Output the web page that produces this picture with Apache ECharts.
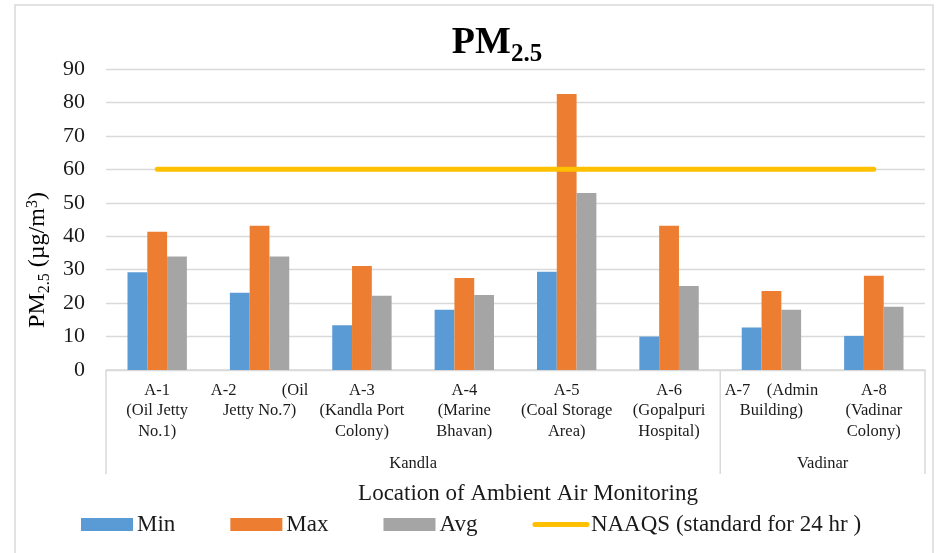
<!DOCTYPE html>
<html>
<head>
<meta charset="utf-8">
<script src="https://cdn.jsdelivr.net/npm/echarts@6/dist/echarts.min.js"></script>
<style>
  html, body { margin: 0; padding: 0; background: #ffffff; }
  #chart { width: 937px; height: 553px; }
</style>
</head>
<body>
<div id="chart"></div>
<script>
// Monitoring stations (category labels, wrapped as printed)
const categories = [
  'A-1\n(Oil Jetty\nNo.1)',
  'A-2           (Oil\nJetty No.7)',
  'A-3\n(Kandla Port\nColony)',
  'A-4\n(Marine\nBhavan)',
  'A-5\n(Coal Storage\nArea)',
  'A-6\n(Gopalpuri\nHospital)',
  'A-7    (Admin\nBuilding)',
  'A-8\n(Vadinar\nColony)'
];
// Second-level grouping of the stations
const groupNames = ['Kandla', 'Vadinar'];
const groupSizes = [6, 2];

// PM2.5 concentrations, µg/m³
const minValues = [29.2, 23.1, 13.4, 18.0, 29.4, 10.0, 12.7, 10.2];
const maxValues = [41.3, 43.1, 31.1, 27.5, 82.5, 43.1, 23.6, 28.2];
const avgValues = [33.9, 33.9, 22.2, 22.4, 52.9, 25.1, 18.0, 18.9];
const naaqsValues = [60, 60, 60, 60, 60, 60, 60, 60];

const seriesNames = ['Min', 'Max', 'Avg', 'NAAQS (standard for 24 hr )'];
const yMin = 0, yMax = 90, yStep = 10;

const FONT = "'Liberation Serif', 'DejaVu Serif', serif";
const TEXT = '#1a1a1a';
const GRID_COLOR = '#d9d9d9';

const chart = echarts.init(document.getElementById('chart'), null, { renderer: 'canvas' });

const barCommon = { type: 'bar', barGap: '0%', barCategoryGap: '42%' };

chart.setOption({
  animation: false,
  backgroundColor: '#ffffff',
  grid: { left: 106, right: 12, top: 69, bottom: 183, containLabel: false },
  xAxis: {
    type: 'category',
    data: categories,
    axisLine: { show: true, lineStyle: { color: GRID_COLOR, width: 1.5 } },
    axisTick: { show: false },
    axisLabel: {
      interval: 0, margin: 10, fontFamily: FONT, fontSize: 16.5, lineHeight: 20.5,
      color: TEXT, verticalAlign: 'top'
    }
  },
  yAxis: {
    type: 'value', min: yMin, max: yMax, interval: yStep,
    axisLine: { show: false }, axisTick: { show: false },
    axisLabel: { margin: 21, fontFamily: FONT, fontSize: 22, color: TEXT },
    splitLine: { lineStyle: { color: GRID_COLOR, width: 1.3 } }
  },
  legend: {
    left: 81, top: 513, padding: 0, itemWidth: 52, itemHeight: 13, itemGap: 55,
    textStyle: { fontFamily: FONT, fontSize: 23, color: TEXT, padding: [0, 0, 0, -1] },
    data: [
      { name: seriesNames[0], icon: 'rect' },
      { name: seriesNames[1], icon: 'rect' },
      { name: seriesNames[2], icon: 'rect' },
      { name: seriesNames[3], itemStyle: { opacity: 0 },
        lineStyle: { width: 5, cap: 'round', color: '#ffc000' } }
    ]
  },
  series: [
    Object.assign({ name: seriesNames[0], data: minValues, itemStyle: { color: '#5b9bd5' } }, barCommon),
    Object.assign({ name: seriesNames[1], data: maxValues, itemStyle: { color: '#ed7d31' } }, barCommon),
    Object.assign({ name: seriesNames[2], data: avgValues, itemStyle: { color: '#a5a5a5' } }, barCommon),
    {
      name: seriesNames[3], type: 'line', data: naaqsValues, symbol: 'none',
      itemStyle: { color: '#ffc000' },
      lineStyle: { color: '#ffc000', width: 5, cap: 'round' }, z: 5
    }
  ]
});

// Measure text widths for hand-placed sub/superscript titles
const ctx = document.createElement('canvas').getContext('2d');
function textWidth(str, size, weight) {
  ctx.font = (weight || 'normal') + ' ' + size + 'px ' + FONT;
  return ctx.measureText(str).width;
}

// Builds a run of text pieces, each with its own size and baseline shift
function textRun(pieces, weight) {
  const total = pieces.reduce((s, p) => s + textWidth(p.t, p.s, weight), 0);
  let x = -total / 2;
  return pieces.map(p => {
    const el = {
      type: 'text', x: x, y: p.dy || 0,
      style: {
        text: p.t, fontFamily: FONT, fontSize: p.s, fontWeight: weight || 'normal',
        fill: '#000', textAlign: 'left', textVerticalAlign: 'bottom'
      }
    };
    x += textWidth(p.t, p.s, weight);
    return el;
  });
}

// Category band geometry from the axis itself
const c0 = chart.convertToPixel({ xAxisIndex: 0 }, 0);
const c1 = chart.convertToPixel({ xAxisIndex: 0 }, 1);
const band = c1 - c0;
const axisY = chart.convertToPixel({ yAxisIndex: 0 }, 0);
const sepBottom = axisY + 104;

const graphics = [];
// outer frame
graphics.push({
  type: 'rect', shape: { x: 15, y: 5, width: 918, height: 560 },
  style: { fill: 'none', stroke: GRID_COLOR, lineWidth: 1.5 }, silent: true
});

// group separators and group labels
let start = 0;
const boundaries = [c0 - band / 2];
groupSizes.forEach((n, gi) => {
  const left = c0 - band / 2 + start * band;
  const right = left + n * band;
  boundaries.push(right);
  graphics.push({
    type: 'text', x: (left + right) / 2, y: axisY + 94,
    style: { text: groupNames[gi], fontFamily: FONT, fontSize: 16.5, fill: TEXT,
             textAlign: 'center', textVerticalAlign: 'middle' }
  });
  start += n;
});
boundaries.forEach(bx => {
  graphics.push({
    type: 'line', shape: { x1: bx, y1: axisY, x2: bx, y2: sepBottom },
    style: { stroke: GRID_COLOR, lineWidth: 1.5 }, silent: true
  });
});

// chart title: PM2.5
graphics.push({
  type: 'group', x: 497, y: 0,
  children: textRun([{ t: 'PM', s: 38, dy: 62 }, { t: '2.5', s: 25, dy: 67 }], 'bold')
});

// x-axis title
graphics.push({
  type: 'text', x: 528, y: 494,
  style: { text: 'Location of Ambient Air Monitoring', fontFamily: FONT, fontSize: 23, fill: TEXT,
           textAlign: 'center', textVerticalAlign: 'middle' }
});

// y-axis title: PM2.5 (µg/m3), rotated
graphics.push({
  type: 'group', x: 40, y: 260, rotation: Math.PI / 2,
  children: textRun([
    { t: 'PM', s: 24, dy: 10 },
    { t: '2.5', s: 16, dy: 13 },
    { t: ' (µg/m', s: 24, dy: 10 },
    { t: '3', s: 16, dy: 1 },
    { t: ')', s: 24, dy: 10 }
  ])
});

chart.setOption({ graphic: graphics });
</script>
</body>
</html>
